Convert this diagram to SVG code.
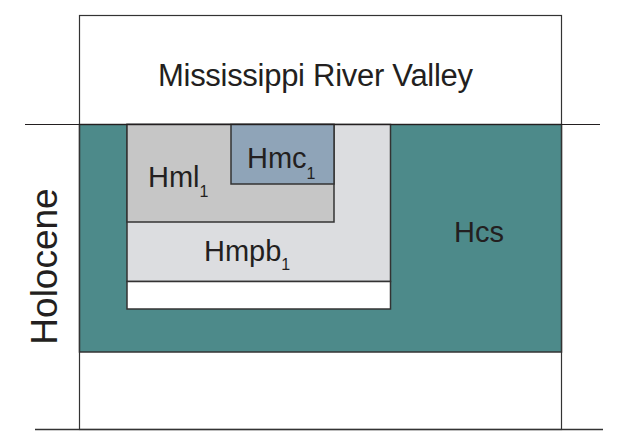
<svg xmlns="http://www.w3.org/2000/svg" width="637" height="432" viewBox="0 0 637 432">
<style>
.t{font-family:"Liberation Sans",Arial,sans-serif;fill:#231f20}
.s{stroke:#333;stroke-width:1.5}
.b{font-size:29px}
.sub{font-size:16px}
</style>
<rect width="637" height="432" fill="#fff"/>
<g id="valley">
<rect x="79.5" y="15.5" width="482" height="414" fill="#fff" stroke="#333" stroke-width="1.2"/>
<text class="t" x="315.5" y="86" font-size="31" text-anchor="middle" textLength="315">Mississippi River Valley</text>
</g>
<g id="hcs">
<rect x="79.5" y="124.5" width="482" height="227.5" fill="#4d8a8a" class="s"/>
<text class="t b" x="479" y="242" text-anchor="middle">Hcs</text>
</g>
<g id="hmpb">
<rect x="127" y="124.5" width="263.5" height="157" fill="#dcdde0" class="s"/>
<text class="t b" x="204" y="261">Hmpb<tspan class="sub" dy="9">1</tspan></text>
</g>
<g id="white-bar">
<rect x="127" y="281.5" width="263.5" height="27.5" fill="#fff" class="s"/>
</g>
<g id="hml">
<rect x="127" y="124.5" width="207" height="97.5" fill="#c6c6c6" class="s"/>
<text class="t b" x="148" y="187">Hml<tspan class="sub" dy="10">1</tspan></text>
</g>
<g id="hmc">
<rect x="231" y="124.5" width="103" height="59.5" fill="#8fa4b8" class="s"/>
<text class="t b" x="247" y="168">Hmc<tspan class="sub" dy="11">1</tspan></text>
</g>
<g id="lines">
<line x1="25" y1="124.5" x2="600" y2="124.5" stroke="#231f20" stroke-width="1.2"/>
<line x1="35" y1="429.5" x2="603" y2="429.5" stroke="#333" stroke-width="1.5"/>
</g>
<g id="holocene">
<text class="t" transform="translate(57,266.5) rotate(-90)" font-size="37" text-anchor="middle">Holocene</text>
</g>
</svg>
